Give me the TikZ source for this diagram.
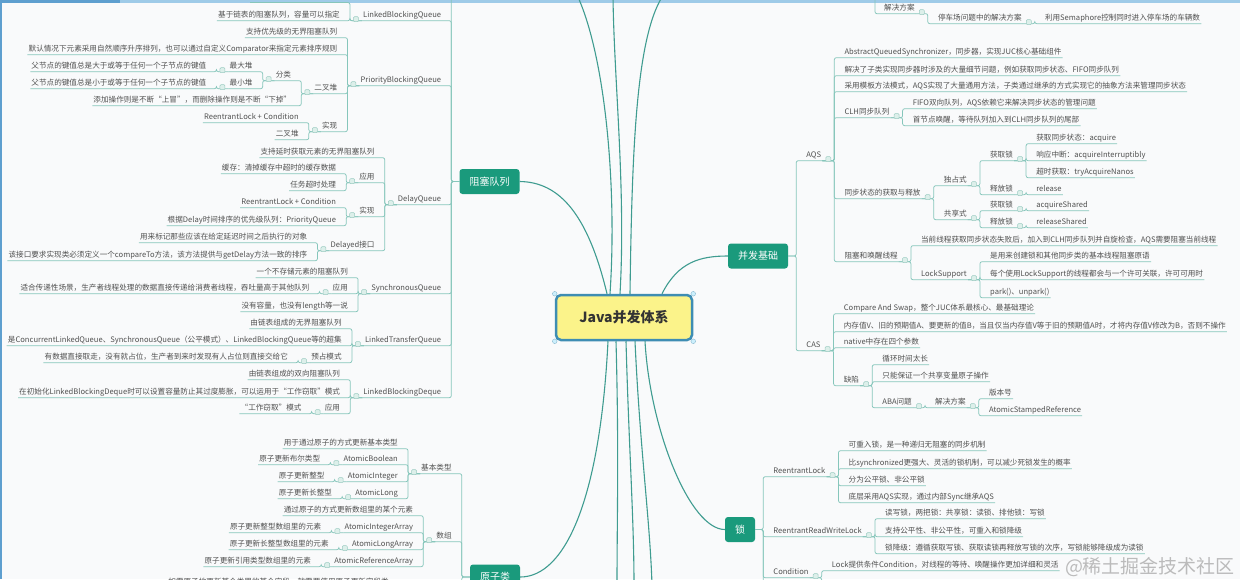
\documentclass[tikz,border=0pt]{standalone}
\usepackage{fontspec}
\setmainfont{Noto Sans CJK SC}
\usetikzlibrary{calc}
\definecolor{bg}{HTML}{F9FAFB}
\definecolor{txt}{HTML}{505050}
\definecolor{brc}{HTML}{86C6BB}
\definecolor{mainc}{HTML}{3F9C90}
\definecolor{grn}{HTML}{1A9A7C}
\definecolor{yel}{HTML}{FBF38A}
\definecolor{cbd}{HTML}{3E8DB3}
\definecolor{icf}{HTML}{DCEFEA}
\definecolor{icd}{HTML}{9CCBC2}
\definecolor{wmc}{HTML}{BBBBBB}
\definecolor{edgeb}{HTML}{9FCBE8}
\definecolor{edged}{HTML}{5E9FCF}
\tikzset{
 tx/.style={font=\fontsize{7.6}{9}\selectfont, text=txt, inner xsep=1pt, inner ysep=1.5pt, text height=6.4pt, text depth=1.6pt},
 br/.style={draw=brc, line width=0.75pt, rounded corners=2pt},
 mainline/.style={draw=mainc, line width=1.1pt},
 greenbox/.style={fill=grn, text=white, rounded corners=3pt, minimum height=25pt, inner xsep=10pt, font=\fontsize{10}{12}\selectfont},
 ico/.style={draw=icd, fill=icf, line width=0.5pt, minimum width=5pt, minimum height=5pt, inner sep=0pt, rounded corners=1pt},
 centrebox/.style={draw=cbd, line width=2.5pt, fill=yel, rounded corners=5pt, minimum width=136pt, minimum height=45pt, font=\fontsize{14}{16}\selectfont\bfseries, text=black!80}
}
% right child
\newcommand\RCh[4]{\node[tx,anchor=west] (#1) at ([xshift=21pt]#2.east |- 0,#3) {#4};
 \draw[br] (#2.south east) -| ([xshift=-9pt]#1.south west) -- (#1.south east);}
% left child
\newcommand\LCh[4]{\node[tx,anchor=east] (#1) at ([xshift=-21pt]#2.west |- 0,#3) {#4};
 \draw[br] (#2.south west) -| ([xshift=9pt]#1.south east) -- (#1.south west);}
% right child of green node
\newcommand\RG[4]{\node[tx,anchor=west] (#1) at ([xshift=17pt]#2.east |- 0,#3) {#4};
 \draw[br] (#2.east) -| ([xshift=-9pt]#1.south west) -- (#1.south east);}
% left child of green node
\newcommand\LG[4]{\node[tx,anchor=east] (#1) at ([xshift=-17pt]#2.west |- 0,#3) {#4};
 \draw[br] (#2.west) -| ([xshift=9pt]#1.south east) -- (#1.south west);}
\newcommand\IR[1]{\node[ico] (#1-i) at ([xshift=6pt,yshift=1.5pt]#1.south east) {};}
\newcommand\IL[1]{\node[ico] (#1-i) at ([xshift=-6pt,yshift=1.5pt]#1.south west) {};}

\begin{document}
\begin{tikzpicture}[x=1pt,y=-1pt]
\useasboundingbox (0,0) rectangle (1240,579);
\clip (0,0) rectangle (1240,579);
\fill[bg] (0,0) rectangle (1240,579);
\fill[edgeb] (0,0) rectangle (1240,2.5);
\fill[edged] (0,0) rectangle (120,2.5);
\fill[edged] (0,0) rectangle (2,579);

% ---------- centre and main branches ----------
\node[centrebox] (cn) at (624,317.5) {Java并发体系};
\foreach \a in {north west,north east,south west,south east}{\fill[cyan!20!white, draw=cbd!60, line width=0.4pt] (cn.\a) circle (2.3pt);}

\node[greenbox] (zsdl) at (489.5,181.5) {阻塞队列};
\node[greenbox] (bf) at (758,256) {并发基础};
\node[greenbox] (suo) at (740,529.5) {锁};
\node[greenbox] (yzl) at (495,577) {原子类};

\draw[mainline] ([xshift=-17pt]cn.north) .. controls (588,215) and (560,182) .. (zsdl.east);
\draw[mainline] ([xshift=38pt]cn.north) .. controls (678,262) and (700,256) .. (bf.west);
\draw[mainline] ([xshift=21pt]cn.south) .. controls (650,430) and (690,529.5) .. (suo.west);
\draw[mainline] ([xshift=-16pt]cn.south) .. controls (600,500) and (565,577) .. (yzl.east);

\coordinate (ta) at (578,-3);
\coordinate (tb) at (613,-3);
\coordinate (tc) at (662,-3);
\draw[mainline] ([xshift=-14pt]cn.north) .. controls (617,190) and (606,60) .. (ta);
\draw[mainline] ([xshift=-4pt]cn.north) .. controls (626,190) and (614,80) .. (tb);
\draw[mainline] ([xshift=6pt]cn.north) .. controls (632,150) and (636,40) .. (tc);
\coordinate (ba) at (617,585);
\coordinate (bb) at (634,585);
\coordinate (bc) at (652,585);
\draw[mainline] ([xshift=-8pt]cn.south) .. controls (619,450) and (617,520) .. (ba);
\draw[mainline] ([xshift=2pt]cn.south) .. controls (629,450) and (634,520) .. (bb);
\draw[mainline] ([xshift=11pt]cn.south) .. controls (640,450) and (650,520) .. (bc);

% ---------- 阻塞队列 ----------
\LG{lbq}{zsdl}{15}{LinkedBlockingQueue}
\LG{pbq}{zsdl}{80}{PriorityBlockingQueue}
\LG{dq}{zsdl}{199}{DelayQueue}
\LG{sq}{zsdl}{288}{SynchronousQueue}
\LG{ltq}{zsdl}{340}{LinkedTransferQueue}
\LG{lbd}{zsdl}{392}{LinkedBlockingDeque}
\coordinate (zqtop) at ([xshift=-8pt]zsdl.west |- 0,-3);
\draw[br] (zsdl.west) -| (zqtop);

\LCh{lbqa}{lbq}{15}{基于链表的阻塞队列，容量可以指定}
\coordinate (lbqs) at (250,2.5);
\draw[br] (lbq.south west) -| ([xshift=-12pt]lbq.south west |- lbqs) -- (lbqs);

\LCh{pbqa}{pbq}{32}{支持优先级的无界阻塞队列}
\LCh{pbqb}{pbq}{49}{默认情况下元素采用自然顺序升序排列，也可以通过自定义Comparator来指定元素排序规则}
\LCh{pbqc}{pbq}{88}{二叉堆}
\LCh{pbqd}{pbq}{126}{实现}
\LCh{fenlei}{pbqc}{75}{分类}
\LCh{ecdb}{pbqc}{100}{添加操作则是不断“上冒”，而删除操作则是不断“下掉”}
\LCh{zdd}{fenlei}{66}{最大堆}
\LCh{zxd}{fenlei}{83}{最小堆}
\LCh{zdda}{zdd}{66}{父节点的键值总是大于或等于任何一个子节点的键值}
\LCh{zxda}{zxd}{83}{父节点的键值总是小于或等于任何一个子节点的键值}
\LCh{pbsa}{pbqd}{117}{ReentrantLock + Condition}
\LCh{pbsb}{pbqd}{134}{二叉堆}

\LCh{dqa}{dq}{152}{支持延时获取元素的无界阻塞队列}
\LCh{dqb}{dq}{177}{应用}
\LCh{dqc}{dq}{211}{实现}
\LCh{dqd}{dq}{245}{Delayed接口}
\LCh{dqba}{dqb}{168}{缓存：清掉缓存中超时的缓存数据}
\LCh{dqbb}{dqb}{185}{任务超时处理}
\LCh{dqca}{dqc}{202}{ReentrantLock + Condition}
\LCh{dqcb}{dqc}{220}{根据Delay时间排序的优先级队列：PriorityQueue}
\LCh{dqda}{dqd}{237}{用来标记那些应该在给定延迟时间之后执行的对象}
\LCh{dqdb}{dqd}{255}{该接口要求实现类必须定义一个compareTo方法，该方法提供与getDelay方法一致的排序}

\LCh{sqa}{sq}{272}{一个不存储元素的阻塞队列}
\LCh{sqb}{sq}{288}{应用}
\LCh{sqc}{sq}{306}{没有容量，也没有length等一说}
\LCh{sqba}{sqb}{288}{适合传递性场景，生产者线程处理的数据直接传递给消费者线程，吞吐量高于其他队列}

\LCh{ltqa}{ltq}{323}{由链表组成的无界阻塞队列}
\LCh{ltqb}{ltq}{340}{是ConcurrentLinkedQueue、SynchronousQueue（公平模式）、LinkedBlockingQueue等的超集}
\LCh{ltqc}{ltq}{357}{预占模式}
\LCh{ltqca}{ltqc}{357}{有数据直接取走，没有就占位，生产者到来时发现有人占位则直接交给它}

\LCh{lbda}{lbd}{374}{由链表组成的双向阻塞队列}
\LCh{lbdb}{lbd}{392}{在初始化LinkedBlockingDeque时可以设置容量防止其过度膨胀，可以运用于“工作窃取”模式}
\LCh{lbdc}{lbd}{408}{应用}
\LCh{lbdca}{lbdc}{408}{“工作窃取”模式}

% ---------- 原子类 ----------
\LG{jblx}{yzl}{468}{基本类型}
\LG{szlx}{yzl}{536}{数组}
\coordinate (yzbot) at ([xshift=-8pt]yzl.west |- 0,585);
\draw[br] (yzl.west) -| (yzbot);
\LCh{jba}{jblx}{443}{用于通过原子的方式更新基本类型}
\LCh{jbb}{jblx}{459}{AtomicBoolean}
\LCh{jbc}{jblx}{476}{AtomicInteger}
\LCh{jbd}{jblx}{493}{AtomicLong}
\LCh{jbba}{jbb}{459}{原子更新布尔类型}
\LCh{jbca}{jbc}{476}{原子更新整型}
\LCh{jbda}{jbd}{493}{原子更新长整型}
\LCh{sza}{szlx}{510}{通过原子的方式更新数组里的某个元素}
\LCh{szb}{szlx}{527}{AtomicIntegerArray}
\LCh{szc}{szlx}{544}{AtomicLongArray}
\LCh{szd}{szlx}{561}{AtomicReferenceArray}
\LCh{szba}{szb}{527}{原子更新整型数组里的元素}
\LCh{szca}{szc}{544}{原子更新长整型数组里的元素}
\LCh{szda}{szd}{561}{原子更新引用类型数组里的元素}
\node[tx,anchor=east] (zdlx) at (390,582) {如需原子地更新某个类里的某个字段，就需要使用原子更新字段类};

% ---------- 并发基础 ----------
\RG{aqs}{bf}{155}{AQS}
\RG{cas}{bf}{345}{CAS}
\RCh{aqa}{aqs}{52}{AbstractQueuedSynchronizer，同步器，实现JUC核心基础组件}
\RCh{aqb}{aqs}{70}{解决了子类实现同步器时涉及的大量细节问题，例如获取同步状态、FIFO同步队列}
\RCh{aqc}{aqs}{86}{采用模板方法模式，AQS实现了大量通用方法，子类通过继承的方式实现它的抽象方法来管理同步状态}
\RCh{clh}{aqs}{112}{CLH同步队列}
\RCh{tbzt}{aqs}{193}{同步状态的获取与释放}
\RCh{zsh}{aqs}{256}{阻塞和唤醒线程}
\RCh{clha}{clh}{103}{FIFO双向队列，AQS依赖它来解决同步状态的管理问题}
\RCh{clhb}{clh}{120}{首节点唤醒，等待队列加入到CLH同步队列的尾部}
\RCh{dzs}{tbzt}{180}{独占式}
\RCh{gxs}{tbzt}{214}{共享式}
\RCh{dhq}{dzs}{155}{获取锁}
\RCh{dsf}{dzs}{189}{释放锁}
\RCh{dhqa}{dhq}{138}{获取同步状态：acquire}
\RCh{dhqb}{dhq}{155}{响应中断：acquireInterruptibly}
\RCh{dhqc}{dhq}{172}{超时获取：tryAcquireNanos}
\RCh{dsfa}{dsf}{189}{release}
\RCh{ghq}{gxs}{205}{获取锁}
\RCh{gsf}{gxs}{222}{释放锁}
\RCh{ghqa}{ghq}{205}{acquireShared}
\RCh{gsfa}{gsf}{222}{releaseShared}
\RCh{zsha}{zsh}{240}{当前线程获取同步状态失败后，加入到CLH同步队列并自旋检查，AQS需要阻塞当前线程}
\RCh{lsp}{zsh}{274}{LockSupport}
\RCh{lspa}{lsp}{256}{是用来创建锁和其他同步类的基本线程阻塞原语}
\RCh{lspb}{lsp}{274}{每个使用LockSupport的线程都会与一个许可关联，许可可用时}
\RCh{lspc}{lsp}{292}{park()、unpark()}

\RCh{casa}{cas}{308}{Compare And Swap，整个JUC体系最核心、最基础理论}
\RCh{casb}{cas}{326}{内存值V、旧的预期值A、要更新的值B，当且仅当内存值V等于旧的预期值A时，才将内存值V修改为B，否则不操作}
\RCh{casc}{cas}{342}{native中存在四个参数}
\RCh{qx}{cas}{380}{缺陷}
\RCh{qxa}{qx}{359}{循环时间太长}
\RCh{qxb}{qx}{376}{只能保证一个共享变量原子操作}
\RCh{aba}{qx}{402}{ABA问题}
\RCh{jjfb}{aba}{402}{解决方案}
\RCh{bbh}{jjfb}{393}{版本号}
\RCh{asr}{jjfb}{410}{AtomicStampedReference}

% top-right fragment
\coordinate (jjup) at (875,-3);
\node[tx,anchor=west] (jjfa) at (883,8) {解决方案};
\draw[br] (jjup) |- (jjfa.south west) -- (jjfa.south east);
\RCh{tcc}{jjfa}{18}{停车场问题中的解决方案}
\RCh{tccb}{tcc}{18}{利用Semaphore控制同时进入停车场的车辆数}

% ---------- 锁 ----------
\RG{rl}{suo}{471}{ReentrantLock}
\RG{rrwl}{suo}{531}{ReentrantReadWriteLock}
\RG{cond}{suo}{572}{Condition}
\coordinate (sbot) at ([xshift=8pt]suo.east |- 0,585);
\draw[br] (suo.east) -| (sbot);
\RCh{rla}{rl}{445}{可重入锁，是一种递归无阻塞的同步机制}
\RCh{rlb}{rl}{463}{比synchronized更强大、灵活的锁机制，可以减少死锁发生的概率}
\RCh{rlc}{rl}{480}{分为公平锁、非公平锁}
\RCh{rld}{rl}{497}{底层采用AQS实现，通过内部Sync继承AQS}
\RCh{rwa}{rrwl}{513}{读写锁，两把锁：共享锁：读锁、排他锁：写锁}
\RCh{rwb}{rrwl}{531}{支持公平性、非公平性，可重入和锁降级}
\RCh{rwc}{rrwl}{548}{锁降级：遵循获取写锁、获取读锁再释放写锁的次序，写锁能够降级成为读锁}
\RCh{conda}{cond}{565}{Lock提供条件Condition，对线程的等待、唤醒操作更加详细和灵活}
\coordinate (condbot) at ([xshift=12pt]cond.south east |- 0,585);
\draw[br] (cond.south east) -| (condbot);

% ---------- icons ----------
\foreach \n in {lbq,pbq,pbqc,fenlei,zdd,zxd,pbqd,dq,dqb,dqc,dqd,sq,sqb,ltq,ltqc,lbd,lbdc,jblx,szlx,jbb,jbc,jbd,szb,szc,szd}{\IL{\n}}
\foreach \n in {aqs,cas,clh,tbzt,zsh,dzs,gxs,dhq,dsf,ghq,gsf,lsp,qx,aba,jjfb,jjfa,tcc,rl,rrwl,cond}{\IR{\n}}

% watermark
\node[font=\fontsize{19}{21}\selectfont, text=wmc, inner sep=0pt] (wm) at (1150,567) {@稀土掘金技术社区};
\end{tikzpicture}
\end{document}
